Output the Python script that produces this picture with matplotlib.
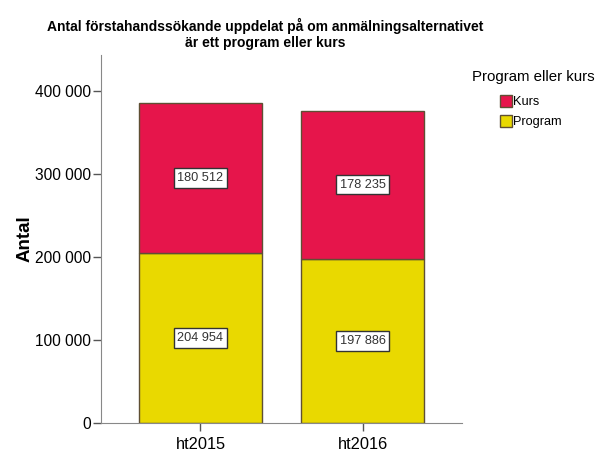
import numpy as np
import matplotlib.pyplot as plt
from matplotlib.patches import Patch

terms = ["ht2015", "ht2016"]
program = [204954, 197886]
kurs = [180512, 178235]
yticks = [0, 100000, 200000, 300000, 400000]
ytick_labels = ["0", "100 000", "200 000", "300 000", "400 000"]

red = "#E6154B"
yellow = "#E9D900"
edge = "#5f4f33"

plt.rcParams["font.family"] = ["Liberation Sans", "DejaVu Sans"]


def fmt(v):
    return f"{v:,}".replace(",", " ")


fig = plt.figure(figsize=(5.97, 4.55), dpi=100)
ax = fig.add_axes([101 / 597, 1 - 423 / 455, 361 / 597, 368 / 455])

x = np.arange(len(terms))
w = 0.76
ax.bar(x, program, w, color=yellow, edgecolor=edge, linewidth=1)
ax.bar(x, kurs, w, bottom=program, color=red, edgecolor=edge, linewidth=1)

box = dict(boxstyle="square,pad=0.3", facecolor="white", edgecolor="#333333", linewidth=1)
for i in range(len(terms)):
    ax.text(x[i], program[i] / 2, fmt(program[i]), ha="center", va="center",
            fontsize=9.2, color="#333333", bbox=box)
    ax.text(x[i], program[i] + kurs[i] / 2, fmt(kurs[i]), ha="center", va="center",
            fontsize=9.2, color="#333333", bbox=box)

ax.set_xlim(-0.614, 1.614)
ax.set_ylim(0, 443000)
ax.set_yticks(yticks)
ax.set_yticklabels(ytick_labels, fontsize=11.2)
ax.set_xticks(x)
ax.set_xticklabels(terms, fontsize=11.8)
ax.tick_params(axis="both", length=6, color="#555555", width=1)
ax.tick_params(axis="y", pad=1)
ax.tick_params(axis="x", pad=4)
for s in ["top", "right"]:
    ax.spines[s].set_visible(False)
for s in ["left", "bottom"]:
    ax.spines[s].set_color("#888888")
ax.set_ylabel("Antal", fontsize=13.5, fontweight="bold")
ax.yaxis.set_label_coords((34 - 101) / 361, 0.5)

fig.text(265 / 597, 1 - 34 / 455,
         "Antal förstahandssökande uppdelat på om anmälningsalternativet\när ett program eller kurs",
         ha="center", va="center", fontsize=10, fontweight="bold", linespacing=1.2)

fig.text(472 / 597, 1 - 77 / 455, "Program eller kurs", ha="left", va="center", fontsize=10.8)
handles = [Patch(facecolor=red, edgecolor=edge), Patch(facecolor=yellow, edgecolor=edge)]
leg = fig.legend(handles, ["Kurs", "Program"],
                 loc="upper left", bbox_to_anchor=(500 / 597, 1 - 95 / 455),
                 frameon=False, fontsize=9.2,
                 handlelength=0.9, handleheight=1.1, handletextpad=0.1,
                 labelspacing=0.5, borderpad=0, borderaxespad=0)

fig.savefig("out.png", dpi=100)
